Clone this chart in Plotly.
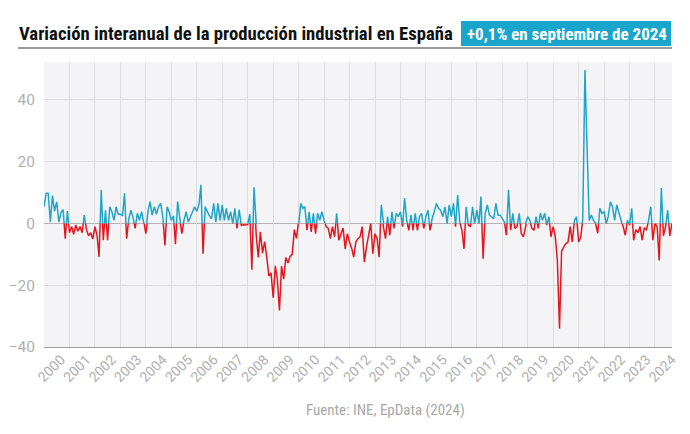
import plotly.graph_objects as go
import pandas as pd

# Monthly year-on-year variation (%), Jan 2000 - Sep 2024
v2000 = [5.4, 9.8, 9.8, 0.5, 9.0, 4.0, 7.0, 0.5, 3.5, 4.5, -4.9, 4.0]
v2001 = [-3.0, -1.0, -3.5, -0.5, -2.5, -1.0, -3.0, 2.7, -2.0, -4.0, -3.0, -5.0]
v2002 = [-1.0, -4.0, -10.8, 10.8, -5.4, 4.3, -5.4, 5.4, 3.8, 1.0, 5.4, 3.0]
v2003 = [3.0, 2.5, 9.8, -4.9, 1.5, 4.3, 2.0, -1.6, 3.3, 1.0, 3.8, 1.0]
v2004 = [-3.3, 4.0, 7.1, 2.7, 5.4, 3.0, 5.4, 6.5, 2.0, -7.1, 5.4, 3.8]
v2005 = [1.0, 2.5, -6.7, 7.1, 1.5, -3.3, 1.0, 3.8, 0.5, 2.0, 4.0, 5.4]
v2006 = [4.0, 6.0, 12.5, -9.8, 5.4, 3.8, 2.5, 1.5, 6.5, 0.5, 6.5, 1.0]
v2007 = [6.0, 1.0, 4.9, 1.0, 3.8, 0.0, 4.9, -1.6, 4.5, -0.6, -0.4, -0.5]
v2008 = [-0.3, 3.0, -15.0, 11.7, -3.2, -11.0, -2.7, -9.6, -5.9, -11.0, -17.0, -16.0]
v2009 = [-24.0, -13.8, -18.0, -28.2, -13.8, -18.0, -11.0, -12.8, -10.6, -10.0, -2.0, -4.8]
v2010 = [-0.5, 6.5, 4.9, 5.4, -2.2, 3.8, -2.7, 3.3, -3.3, 3.3, 1.0, 3.8]
v2011 = [1.0, -1.0, -1.5, -4.9, -1.0, -4.3, 3.3, -5.4, -3.3, -1.5, -8.2, -3.3]
v2012 = [-6.0, -8.0, -10.9, -6.0, -4.9, -4.3, -1.0, -12.5, -7.6, -3.3, 0.0, -9.8]
v2013 = [-3.3, -5.0, -10.9, 6.0, -1.0, -4.9, 2.2, -3.8, 3.8, -1.6, 3.3, 2.2]
v2014 = [3.8, -1.0, 8.2, 1.0, -2.2, 2.7, -2.2, 3.3, -2.2, 2.2, 3.3, -1.6]
v2015 = [2.2, 4.3, -2.2, 1.6, 3.8, 6.5, 4.9, 4.3, 2.2, 5.4, 0.0, 6.0]
v2016 = [2.2, 6.5, -1.0, 9.2, 0.5, -2.2, -8.2, 5.4, -0.5, -1.0, 5.4, 0.0]
v2017 = [4.3, 0.0, 8.7, -11.4, 3.3, 6.0, 2.7, 2.2, 1.6, 6.5, 2.7, 2.7]
v2018 = [1.6, 0.5, -3.8, 10.9, -2.2, 3.3, -1.6, -1.0, 3.3, -3.3, -4.3, 0.0]
v2019 = [2.2, 1.0, -1.6, -2.2, 2.2, -1.6, 3.3, 1.0, 3.3, -0.5, 2.2, -4.3]
v2020 = [-1.0, -4.3, -12.0, -34.0, -9.0, -7.6, -6.5, -6.0, -1.0, -6.0, 1.0, 2.2]
v2021 = [-6.0, -4.3, 1.6, 49.7, 25.0, 1.0, 2.7, 1.0, 0.0, -3.2, 4.9, 3.3]
v2022 = [3.8, 0.0, 2.2, 7.0, 5.4, 1.0, 6.0, 3.3, 1.0, -1.0, -3.8, 1.0]
v2023 = [-0.5, 4.9, -5.4, -2.0, -3.0, -1.0, -5.4, -1.5, -2.0, 1.0, 5.4, -5.4]
v2024 = [0.0, -1.0, -12.0, 11.5, -4.0, -1.0, 4.3, -4.0, 0.1]

values = (v2000 + v2001 + v2002 + v2003 + v2004 + v2005 + v2006 + v2007 + v2008
          + v2009 + v2010 + v2011 + v2012 + v2013 + v2014 + v2015 + v2016 + v2017
          + v2018 + v2019 + v2020 + v2021 + v2022 + v2023 + v2024)
dates = pd.date_range("2000-01-01", periods=len(values), freq="MS")

title_text = "Variación interanual de la producción industrial en España"
badge_text = "+0,1% en septiembre de 2024"
source_text = "Fuente: INE, EpData (2024)"
y_top_ticks = [20, 40]
y_bottom_ticks = [-40, -20, 0]

BLUE = "#1ea5c9"
RED = "#e4161d"
GRID = "#dcdce0"
BG = "#f4f4f6"
TICKC = "#b0b0b0"

Y_MIN, Y_MAX = -40, 52.3
zfrac = (0 - Y_MIN) / (Y_MAX - Y_MIN)

# Screen geometry (the page body adds an 8px offset)
OFF = 8
SW, SH = 690, 434
PL, PR, PT, PB = 44, 672, 62, 347          # plot box in screen pixels
W, H = SW - OFF, SH - OFF
L, R, T, B = PL - OFF, SW - PR, PT - OFF, SH - PB
PW, PH = PR - PL, PB - PT
def px(x):
    return (x - PL) / PW
def py(y):
    return (PB - y) / PH

fig = go.Figure()
fig.add_trace(go.Scatter(x=dates, y=values, mode="lines",
                         line=dict(color=BLUE, width=1.5),
                         xaxis="x", yaxis="y", hoverinfo="x+y", showlegend=False))
fig.add_trace(go.Scatter(x=dates, y=values, mode="lines",
                         line=dict(color=RED, width=1.5),
                         xaxis="x", yaxis="y2", hoverinfo="x+y", showlegend=False))

font_main = "Roboto Condensed, Liberation Sans Narrow, DejaVu Sans Condensed, Roboto, sans-serif"

fig.update_layout(
    width=W, height=H,
    margin=dict(l=L, r=R, t=T, b=B, autoexpand=False),
    paper_bgcolor="white",
    plot_bgcolor=BG,
    font=dict(family="Roboto, sans-serif"),
    xaxis=dict(
        type="date", anchor="y2", automargin=False,
        range=[dates[0], dates[-1]],
        tick0="2000-01-01", dtick="M12", tickformat="%Y",
        tickangle=-45, tickfont=dict(size=14, color=TICKC),
        ticklabelshift=17, ticklabelstandoff=-2,
        showgrid=True, gridcolor=GRID, gridwidth=1,
        showline=True, linecolor="#9a9a9a", linewidth=1,
        zeroline=False, ticks="",
    ),
    yaxis=dict(
        domain=[zfrac, 1], range=[0, Y_MAX], automargin=False,
        tickvals=y_top_ticks, tickfont=dict(size=15.5, color=TICKC),
        showgrid=True, gridcolor=GRID, zeroline=False, ticks="",
        ticklabelstandoff=8,
    ),
    yaxis2=dict(
        domain=[0, zfrac], range=[Y_MIN, 0], automargin=False,
        tickvals=y_bottom_ticks, tickfont=dict(size=15.5, color=TICKC),
        showgrid=True, gridcolor=GRID, zeroline=False, ticks="",
        ticklabelstandoff=8,
    ),
    shapes=[
        dict(type="line", xref="paper", yref="y2", x0=0, x1=1, y0=0, y1=0,
             line=dict(color="#707070", width=1.2), layer="between"),
        dict(type="line", xref="paper", yref="paper", x0=px(18), x1=px(672),
             y0=py(48), y1=py(48), line=dict(color="#9a9a9a", width=2)),
        dict(type="rect", xref="paper", yref="paper", x0=px(461), x1=px(671),
             y0=py(46), y1=py(21), fillcolor="#1aa6cc", line=dict(width=0)),
    ],
    annotations=[
        dict(text="<b>" + title_text + "</b>", xref="paper", yref="paper",
             x=px(17), y=py(34), xanchor="left", yanchor="middle", showarrow=False,
             font=dict(family=font_main, size=18.7, color="#111111")),
        dict(text="<b>" + badge_text + "</b>", xref="paper", yref="paper",
             x=px(567), y=py(34), xanchor="center", yanchor="middle", showarrow=False,
             font=dict(family=font_main, size=17, color="white")),
        dict(text=source_text, xref="paper", yref="paper",
             x=px(385), y=py(410), xanchor="center", yanchor="middle", showarrow=False,
             font=dict(family=font_main, size=15, color="#a8a8a8")),
    ],
)

fig.write_html("out.html")
